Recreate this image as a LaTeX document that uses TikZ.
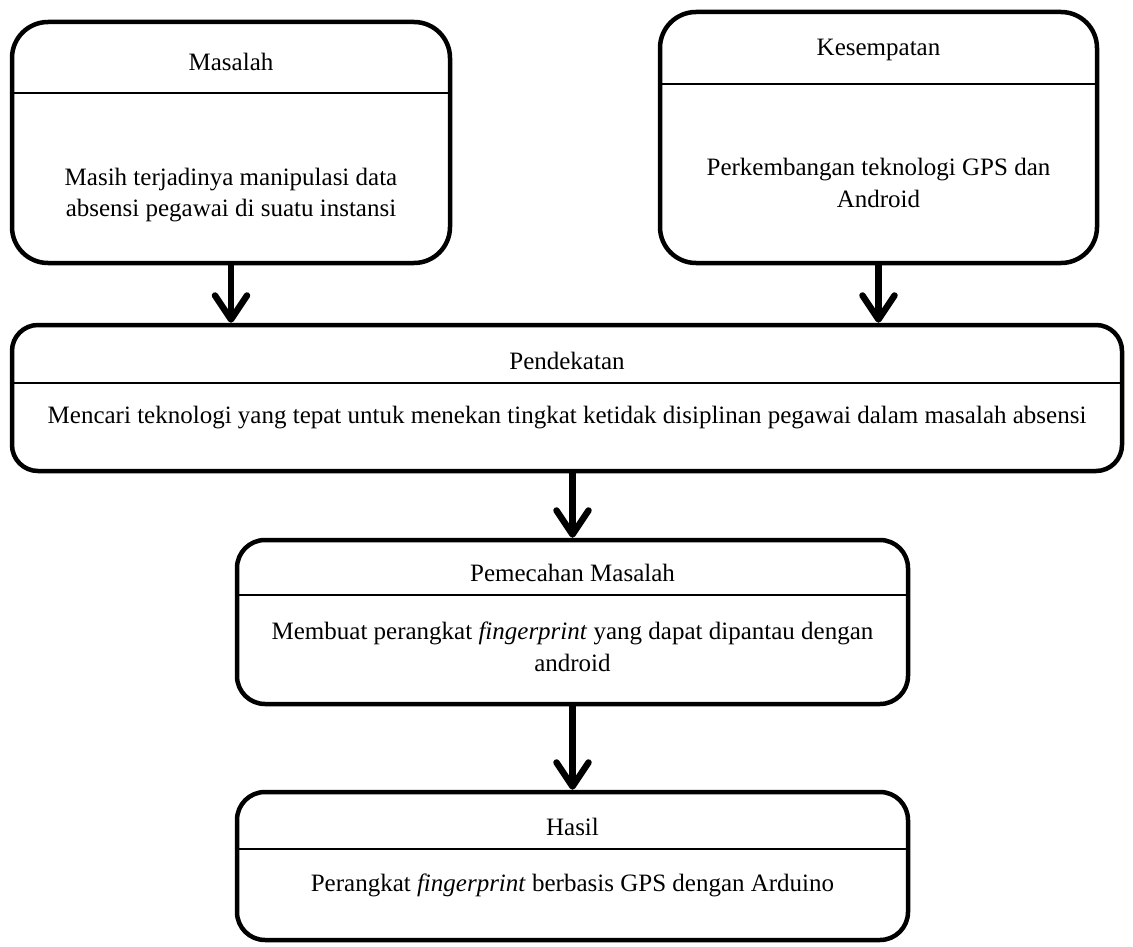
\documentclass[tikz,border=0pt]{standalone}
\usepackage{fontspec}
\setmainfont{Liberation Serif}
\usepackage{tikz}
\usetikzlibrary{arrows.meta, positioning, calc}

\begin{document}
\begin{tikzpicture}[
  x=1pt, y=-1pt,
  frame/.style 2 args={draw, line width=4.5pt, rounded corners=#1, inner sep=0pt,
              minimum width=#2},
  txt/.style={font=\fontsize{25}{31.5}\selectfont, align=center, inner sep=0pt},
  sep/.style={line width=1.6pt},
  arr/.style={-{Straight Barb[length=24pt, width=32pt, line cap=round, line join=round]},
              line width=6.5pt},
]
  \useasboundingbox (0,0) rectangle (1133,947);

  \node[frame={36pt}{438pt}, minimum height=241pt] (masalah) at (231,142.5) {};
  \node[frame={36pt}{437pt}, minimum height=251pt] (kesempatan) at (878.5,137.5) {};
  \node[frame={26pt}{1110pt}, minimum height=146pt] (pendekatan) at (567,398) {};
  \node[frame={28pt}{671pt}, minimum height=164pt] (pemecahan) at (572.5,622) {};
  \node[frame={28pt}{671pt}, minimum height=148pt] (hasil) at (572.5,866) {};

  % titles
  \node[txt] (tMasalah) at (231,62) {Masalah};
  \node[txt] (tKesempatan) at (878.5,50) {Kesempatan};
  \node[txt] (tPendekatan) at (567,361) {Pendekatan};
  \node[txt] (tPemecahan) at (572.5,573) {Pemecahan Masalah};
  \node[txt] (tHasil) at (572.5,827) {Hasil};

  % dividers
  \draw[sep] (masalah.west |- 0,93) -- (masalah.east |- 0,93);
  \draw[sep] (kesempatan.west |- 0,84) -- (kesempatan.east |- 0,84);
  \draw[sep] (pendekatan.west |- 0,383) -- (pendekatan.east |- 0,383);
  \draw[sep] (pemecahan.west |- 0,595) -- (pemecahan.east |- 0,595);
  \draw[sep] (hasil.west |- 0,849) -- (hasil.east |- 0,849);

  % contents
  \node[txt] (bMasalah) at (231,195) {Masih terjadinya manipulasi data\\absensi pegawai di suatu instansi};
  \node[txt] (bKesempatan) at (878.5,183) {Perkembangan teknologi GPS dan\\Android};
  \node[txt] (bPendekatan) at (567,418) {Mencari teknologi yang tepat untuk menekan tingkat ketidak disiplinan pegawai dalam masalah absensi};
  \node[txt] (bPemecahan) at (572.5,647) {Membuat perangkat \textit{fingerprint} yang dapat dipantau dengan\\android};
  \node[txt] (bHasil) at (572.5,885) {Perangkat \textit{fingerprint} berbasis GPS dengan Arduino};

  \draw[arr] (masalah.south) -- (masalah.south |- pendekatan.north);
  \draw[arr] (kesempatan.south) -- (kesempatan.south |- pendekatan.north);
  \draw[arr] (pemecahan.north |- pendekatan.south) -- (pemecahan.north);
  \draw[arr] (pemecahan.south) -- (hasil.north);
\end{tikzpicture}
\end{document}
